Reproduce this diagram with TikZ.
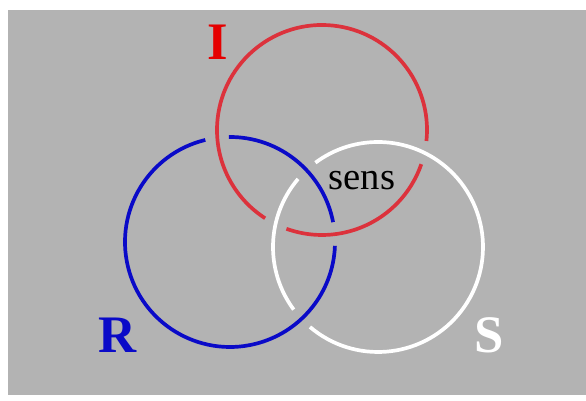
\documentclass[tikz,border=0pt]{standalone}
\usepackage{fontspec}
\setmainfont{Liberation Serif}
\definecolor{ringred}{RGB}{220,50,60}
\definecolor{ringblue}{RGB}{10,10,200}
\definecolor{panelgray}{RGB}{179,179,179}

\begin{document}
\begin{tikzpicture}[x=0.02cm, y=0.02cm,
          redring/.style={draw=ringred, line width=2.1pt},
          bluering/.style={draw=ringblue, line width=2.1pt},
          whitering/.style={draw=white, line width=2.1pt},
          letter/.style={font=\fontsize{30}{30}\selectfont\bfseries, inner sep=0pt, anchor=base}]

        \useasboundingbox (0,0) rectangle (586,401);
        \fill[panelgray] (8,6) rectangle (586,391);

        \coordinate (cI) at (322,271);
        \coordinate (cR) at (230,159);
        \coordinate (cS) at (378,154);

        % red ring, broken where the white one passes over it
        \draw[redring] ([shift={(-6:105)}]cI) arc (-6:237.2:105);
        \draw[redring] ([shift={(250.2:105)}]cI) arc (250.2:341:105);

        % blue ring, broken under the red one
        \draw[bluering] ([shift={(10.9:105)}]cR) arc (10.9:90.6:105);
        \draw[bluering] ([shift={(103.6:105)}]cR) arc (103.6:357.9:105);

        % white ring, broken under the blue one
        \draw[whitering] ([shift={(139.6:105)}]cS) arc (139.6:216.6:105);
        \draw[whitering] ([shift={(229.6:105)}]cS) arc (229.6:486.6:105);

        \node[letter, text=red!90!black] (lblI) at (218,341) {I};
        \node[letter, text=ringblue]     (lblR) at (118,48)  {R};
        \node[letter, text=white]        (lblS) at (489,48)  {S};

        \node[font=\fontsize{22}{22}\selectfont, inner sep=0pt] (sens) at (362,220.5) {sens};

      \end{tikzpicture}
\end{document}
